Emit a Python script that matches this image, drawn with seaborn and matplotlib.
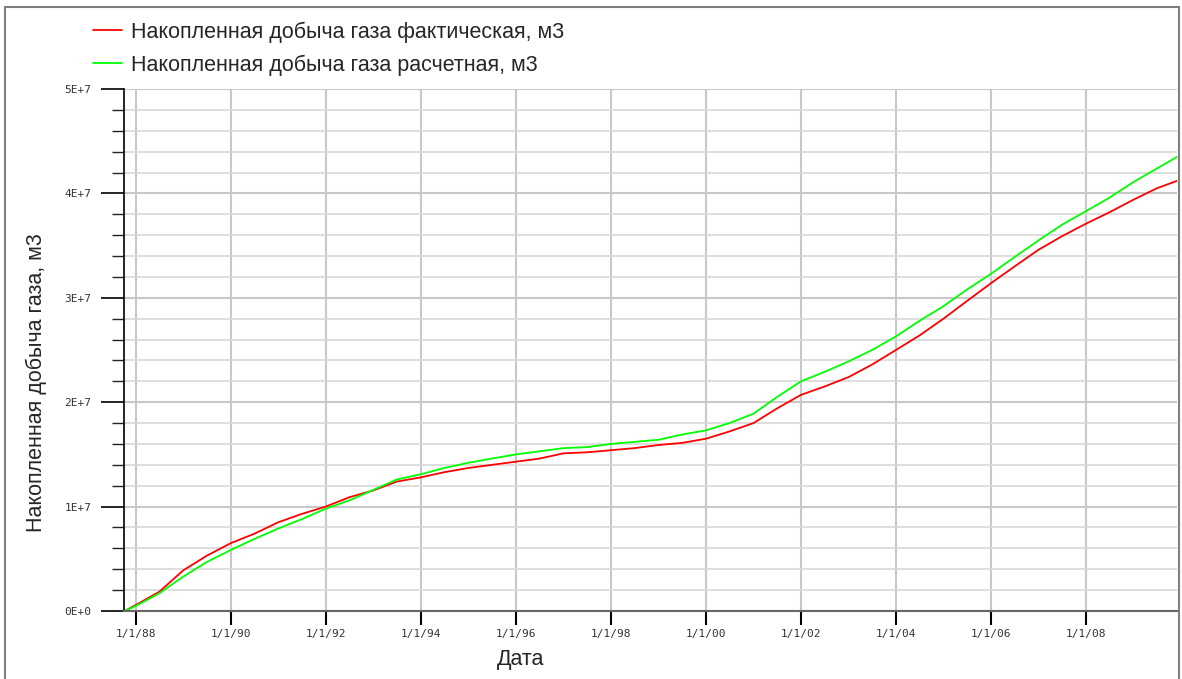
import pandas as pd
import numpy as np
import seaborn as sns
import matplotlib.pyplot as plt
import matplotlib.dates as mdates
from matplotlib.ticker import FuncFormatter, MultipleLocator
from matplotlib.patches import Rectangle

# dates of the readings (semi-annual)
dates = [
    "1987-10-08", "1988-01-01", "1988-07-01", "1989-01-01", "1989-07-01",
    "1990-01-01", "1990-07-01", "1991-01-01", "1991-07-01", "1992-01-01",
    "1992-07-01", "1993-01-01", "1993-07-01", "1994-01-01", "1994-07-01",
    "1995-01-01", "1995-07-01", "1996-01-01", "1996-07-01", "1997-01-01",
    "1997-07-01", "1998-01-01", "1998-07-01", "1999-01-01", "1999-07-01",
    "2000-01-01", "2000-07-01", "2001-01-01", "2001-07-01", "2002-01-01",
    "2002-07-01", "2003-01-01", "2003-07-01", "2004-01-01", "2004-07-01",
    "2005-01-01", "2005-07-01", "2006-01-01", "2006-07-01", "2007-01-01",
    "2007-07-01", "2008-01-01", "2008-07-01", "2009-01-01", "2009-07-01",
    "2009-12-01",
]

# cumulative gas, 1E+7 m3
fact = [
    0.0, 0.057, 0.185, 0.39, 0.53,
    0.65, 0.74, 0.85, 0.93, 1.00,
    1.09, 1.155, 1.24, 1.28, 1.33,
    1.37, 1.40, 1.43, 1.46, 1.51,
    1.52, 1.54, 1.56, 1.59, 1.61,
    1.65, 1.72, 1.80, 1.94, 2.07,
    2.15, 2.24, 2.36, 2.50, 2.64,
    2.80, 2.97, 3.14, 3.30, 3.46,
    3.59, 3.71, 3.82, 3.94, 4.05,
    4.12,
]
calc = [
    0.0, 0.048, 0.17, 0.33, 0.47,
    0.585, 0.69, 0.79, 0.88, 0.98,
    1.06, 1.16, 1.26, 1.31, 1.37,
    1.42, 1.46, 1.50, 1.53, 1.56,
    1.57, 1.60, 1.62, 1.64, 1.69,
    1.73, 1.80, 1.89, 2.05, 2.20,
    2.29, 2.39, 2.50, 2.63, 2.78,
    2.92, 3.08, 3.23, 3.39, 3.55,
    3.70, 3.83, 3.96, 4.11, 4.24,
    4.35,
]

label_fact = "Накопленная добыча газа фактическая, м3"
label_calc = "Накопленная добыча газа расчетная, м3"

df = pd.concat([
    pd.DataFrame({"date": pd.to_datetime(dates), "value": np.array(fact) * 1e7, "series": label_fact}),
    pd.DataFrame({"date": pd.to_datetime(dates), "value": np.array(calc) * 1e7, "series": label_calc}),
])

sns.set_style("white")
plt.rcParams["font.family"] = ["Liberation Sans", "DejaVu Sans"]

fig = plt.figure(figsize=(11.82, 6.79), dpi=100)
ax = fig.add_axes([124 / 1182, 1 - 611 / 679, 1053 / 1182, 522 / 679])

# outer frame of the picture
fig.patches.append(Rectangle((5 / 1182, -0.1), 1174 / 1182, 1.1 - 7.5 / 679,
                             transform=fig.transFigure, fill=False,
                             edgecolor="#808080", linewidth=1.5))

sns.lineplot(data=df, x="date", y="value", hue="series",
             palette={label_fact: "#ff0000", label_calc: "#00ff00"},
             linewidth=1.3, ax=ax)

ax.set_xlim(pd.Timestamp("1987-10-03"), pd.Timestamp("2009-12-01"))
ax.set_ylim(0, 5e7)

ax.xaxis.set_major_locator(mdates.YearLocator(base=2, month=1, day=1))
ax.xaxis.set_major_formatter(FuncFormatter(
    lambda v, p: (lambda d: f"{d.month}/{d.day}/{d:%y}")(mdates.num2date(v))))

def sci(v, p):
    if v <= 0:
        return "0E+0"
    e = int(np.floor(np.log10(v) + 1e-9))
    return f"{int(round(v / 10 ** e))}E+{e}"

ax.yaxis.set_major_locator(MultipleLocator(1e7))
ax.yaxis.set_minor_locator(MultipleLocator(2e6))
ax.yaxis.set_major_formatter(FuncFormatter(sci))

ax.grid(True, which="major", axis="both", color="#c8c8c8", linewidth=1.5)
ax.grid(True, which="minor", axis="y", color="#d8d8d8", linewidth=1.2)
ax.set_axisbelow(True)

ax.tick_params(axis="y", which="major", left=True, length=16.5, width=1.2,
               color="black", labelsize=8, labelcolor="#333333", pad=7)
ax.tick_params(axis="y", which="minor", left=True, length=9, width=1.0, color="#222222")
ax.tick_params(axis="x", which="major", bottom=True, length=10, width=1.5,
               color="black", labelsize=8, labelcolor="#333333", pad=3)
for lab in ax.get_xticklabels() + ax.get_yticklabels():
    lab.set_family("DejaVu Sans Mono")

for s in ["top", "right"]:
    ax.spines[s].set_visible(False)
ax.spines["left"].set_color("black")
ax.spines["left"].set_linewidth(1.2)
ax.spines["bottom"].set_color("#666666")
ax.spines["bottom"].set_linewidth(1.5)

ax.set_xlabel("Дата", fontsize=15.5)
ax.xaxis.set_label_coords((521 - 124) / 1053, -(649 - 611) / 522)
ax.set_ylabel("Накопленная добыча газа, м3", fontsize=15.5)
ax.yaxis.set_label_coords(-(124 - 47) / 1053, (611 - 383) / 522)

ax.legend(loc="upper left", bbox_to_anchor=(84 / 1182, 1 - 13 / 679),
          bbox_transform=fig.transFigure, frameon=False, fontsize=15.5,
          handlelength=1.35, handletextpad=0.42, labelspacing=0.54,
          borderaxespad=0)

fig.savefig("out.png", dpi=100)
